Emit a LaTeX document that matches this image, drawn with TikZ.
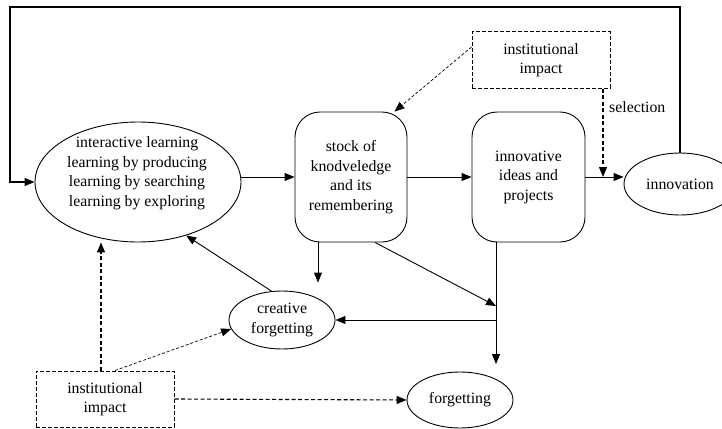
\documentclass[tikz,border=0pt]{standalone}
\usepackage{fontspec}
\setmainfont{Liberation Serif}
\usetikzlibrary{arrows.meta,shapes.geometric}
\begin{document}
\begin{tikzpicture}[x=1pt,y=-1pt,
  txt/.style={font=\fontsize{15.8}{19.5}\selectfont, align=center, inner sep=0pt},
  ell/.style={draw, ellipse, line width=0.9pt, inner sep=0pt, txt},
  rbox/.style={draw, rounded corners=25pt, line width=0.9pt, txt},
  dbox/.style={draw, dash pattern=on 4pt off 2pt, line width=1pt, txt},
  arr/.style={line width=0.9pt, -{Triangle[length=10pt,width=8pt]}},
  darr/.style={arr, line width=1.1pt, dash pattern=on 4pt off 2.5pt},
  fdarr/.style={arr, line width=0.7pt, dash pattern=on 3pt off 2pt},
]
\useasboundingbox (0,0) rectangle (722,428);

\node[ell, minimum width=206pt, minimum height=120pt] (L) at (138,182) {};
\node[txt] (Lt) at (137,173) {interactive learning\\learning by producing\\learning by searching\\learning by exploring};
\node[rbox, minimum width=112pt, minimum height=130pt] (S) at (351,177) {stock of\\knodveledge\\and its\\remembering};
\node[rbox, minimum width=113pt, minimum height=130pt] (I) at (528.5,177) {innovative\\ideas and\\projects};
\node[ell, minimum width=112pt, minimum height=62pt] (N) at (680,184) {innovation};
\node[ell, minimum width=106pt, minimum height=58pt] (CF) at (282,320) {creative\\forgetting};
\node[ell, minimum width=106pt, minimum height=56pt] (F) at (460,400) {forgetting};
\node[dbox, minimum width=138pt, minimum height=56pt] (T) at (541,60) {institutional\\impact};
\node[dbox, minimum width=138pt, minimum height=56pt] (B) at (105,399) {institutional\\impact};

\coordinate (tl) at (10,7);
\coordinate (sel) at (603,177);
\coordinate (j1) at (496,306);

\draw[arr, line width=1.3pt] (N.north) |- (tl) |- (L.west);
\draw[arr] (S.west -| L.east) -- (S.west);
\draw[arr] (S.east) -- (I.west);
\draw[arr] (I.east) -- (I.east -| N.west);
\draw[darr] (T.south -| sel) -- (sel);
\node[txt, anchor=west] (sl) at (609,107) {selection};
\draw[fdarr] ([yshift=13pt]T.west) -- ([xshift=-13pt]S.north east);
\draw[arr] (CF.110) -- (L.-48);
\draw[arr, shorten >=8pt] ([xshift=-33pt]S.south) -- ([xshift=-33pt]S.south |- CF.north);
\draw[arr] ([xshift=24pt]S.south) -- (j1);
\draw[arr, shorten >=7.5pt] ([xshift=-32.5pt]I.south) -- ([xshift=-32.5pt]I.south |- F.north);
\draw[arr] (CF.east -| j1) -- (CF.east);
\draw[darr] ([xshift=-4pt]B.north) -- ([xshift=-4pt]B.north |- L.south);
\draw[fdarr] ([xshift=10pt]B.north) -- (CF.190);
\draw[darr] (B.east) -- (F.west);
\end{tikzpicture}
\end{document}
